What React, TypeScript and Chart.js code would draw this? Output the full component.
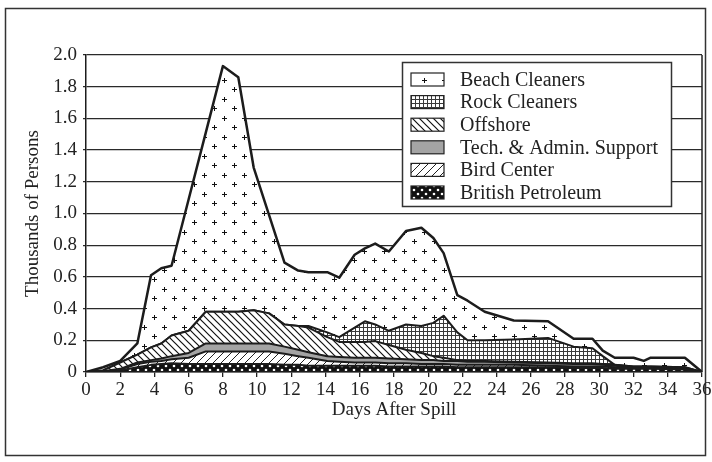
import React, { useEffect, useRef } from 'react';
import { Chart, registerables } from 'chart.js';
Chart.register(...registerables);

const days = [0, 1, 2, 3, 3.8, 4.4, 5, 6, 7, 8, 8.9, 9.8, 10.7, 11.6, 12.4, 13, 14.1, 14.8, 15.7, 16.3, 16.9, 17.7, 18.7, 19.6, 20.3, 20.9, 21.7, 22.3, 23.3, 25, 27, 28.5, 29.6, 30.2, 30.9, 32, 32.6, 33, 35, 36];

const britishPetroleum = [0, 0, 0.01, 0.03, 0.045, 0.05, 0.055, 0.05, 0.05, 0.05, 0.05, 0.05, 0.05, 0.045, 0.045, 0.04, 0.04, 0.04, 0.04, 0.04, 0.04, 0.035, 0.035, 0.035, 0.035, 0.035, 0.03, 0.03, 0.03, 0.03, 0.03, 0.025, 0.025, 0.025, 0.02, 0.02, 0.02, 0.02, 0.015, 0];
const birdCenter = [0, 0.003, 0.005, 0.02, 0.02, 0.02, 0.025, 0.04, 0.08, 0.08, 0.08, 0.08, 0.08, 0.07, 0.055, 0.05, 0.03, 0.025, 0.02, 0.02, 0.02, 0.02, 0.02, 0.015, 0.015, 0.015, 0.015, 0.015, 0.015, 0.015, 0.01, 0.01, 0.01, 0.01, 0.01, 0.005, 0.005, 0.005, 0.005, 0];
const techAdmin = [0, 0.002, 0.005, 0.01, 0.01, 0.015, 0.02, 0.03, 0.05, 0.05, 0.05, 0.05, 0.05, 0.045, 0.04, 0.035, 0.03, 0.03, 0.03, 0.03, 0.03, 0.03, 0.025, 0.025, 0.025, 0.02, 0.025, 0.02, 0.02, 0.015, 0.015, 0.015, 0.015, 0.01, 0.01, 0.005, 0.005, 0.005, 0.005, 0];
const offshore = [0, 0.005, 0.04, 0.05, 0.08, 0.095, 0.13, 0.14, 0.2, 0.2, 0.2, 0.21, 0.19, 0.14, 0.15, 0.155, 0.12, 0.095, 0.1, 0.1, 0.105, 0.085, 0.06, 0.045, 0.025, 0.02, 0.005, 0.005, 0.005, 0.005, 0.005, 0.005, 0.005, 0.005, 0.005, 0.005, 0.005, 0.005, 0.005, 0];
const rockCleaners = [0, 0, 0, 0, 0, 0, 0, 0, 0, 0, 0, 0, 0, 0, 0, 0.01, 0.03, 0.03, 0.09, 0.13, 0.105, 0.09, 0.16, 0.17, 0.21, 0.265, 0.175, 0.13, 0.13, 0.14, 0.155, 0.105, 0.095, 0.05, 0, 0, 0, 0, 0, 0];
const beachCleaners = [0, 0.02, 0.01, 0.07, 0.455, 0.475, 0.44, 0.83, 1.13, 1.55, 1.48, 0.9, 0.62, 0.39, 0.35, 0.34, 0.38, 0.375, 0.46, 0.46, 0.51, 0.5, 0.59, 0.62, 0.535, 0.395, 0.235, 0.25, 0.18, 0.12, 0.105, 0.05, 0.06, 0.035, 0.045, 0.055, 0.035, 0.055, 0.06, 0];

const seriesLabels = ['British Petroleum', 'Bird Center', 'Tech. & Admin. Support', 'Offshore', 'Rock Cleaners', 'Beach Cleaners'];
const seriesValues = [britishPetroleum, birdCenter, techAdmin, offshore, rockCleaners, beachCleaners];

const xTitle = 'Days After Spill';
const yTitle = 'Thousands of Persons';

const FONT = '"Liberation Serif", "Times New Roman", serif';

function makePattern(w: number, h: number, draw: (g: CanvasRenderingContext2D) => void): CanvasPattern {
  const c = document.createElement('canvas');
  c.width = w;
  c.height = h;
  const g = c.getContext('2d') as CanvasRenderingContext2D;
  draw(g);
  return g.createPattern(c, 'repeat') as CanvasPattern;
}

function buildFills(): (CanvasPattern | string)[] {
  const bp = makePattern(8, 8, (g) => {
    g.fillStyle = '#111';
    g.fillRect(0, 0, 8, 8);
    g.fillStyle = '#fff';
    g.beginPath(); g.arc(2, 2, 1.3, 0, Math.PI * 2); g.fill();
    g.beginPath(); g.arc(6, 6, 1.3, 0, Math.PI * 2); g.fill();
  });
  const bird = makePattern(8, 8, (g) => {
    g.fillStyle = '#fff';
    g.fillRect(0, 0, 8, 8);
    g.strokeStyle = '#222';
    g.lineWidth = 1;
    g.beginPath();
    g.moveTo(-1, 9); g.lineTo(9, -1);
    g.moveTo(-1, 1); g.lineTo(1, -1);
    g.moveTo(7, 9); g.lineTo(9, 7);
    g.stroke();
  });
  const tech = '#a4a4a4';
  const off = makePattern(7, 7, (g) => {
    g.fillStyle = '#fff';
    g.fillRect(0, 0, 7, 7);
    g.strokeStyle = '#111';
    g.lineWidth = 1.2;
    g.beginPath();
    g.moveTo(-1, -1); g.lineTo(8, 8);
    g.moveTo(6, -1); g.lineTo(8, 1);
    g.moveTo(-1, 6); g.lineTo(1, 8);
    g.stroke();
  });
  const rock = makePattern(4, 4, (g) => {
    g.fillStyle = '#fff';
    g.fillRect(0, 0, 4, 4);
    g.fillStyle = '#3a3a3a';
    g.fillRect(0, 3, 4, 1);
    g.fillRect(3, 0, 1, 4);
  });
  const beach = makePattern(20, 19, (g) => {
    g.fillStyle = '#fff';
    g.fillRect(0, 0, 20, 19);
    g.fillStyle = '#111';
    const plus = (x: number, y: number) => {
      g.fillRect(x - 2, y, 5, 1);
      g.fillRect(x, y - 2, 1, 5);
    };
    plus(4, 4);
    plus(14, 13);
  });
  return [bp, bird, tech, off, rock, beach];
}

export default function App() {
  const ref = useRef<HTMLCanvasElement | null>(null);

  useEffect(() => {
    const canvas = ref.current;
    if (!canvas) return;
    const fills = buildFills();

    const datasets = seriesValues.map((vals, i) => ({
      label: seriesLabels[i],
      data: days.map((d, j) => ({ x: d, y: vals[j] })),
      backgroundColor: fills[i],
      borderColor: '#1c1c1c',
      borderWidth: i === 5 ? 2.5 : 2,
      pointRadius: 0,
      tension: 0,
      fill: i === 0 ? 'origin' : '-1',
    }));

    const framePlugin = {
      id: 'frame',
      beforeDraw(chart: any) {
        const ctx = chart.ctx;
        ctx.save();
        ctx.fillStyle = '#fff';
        ctx.fillRect(0, 0, chart.width, chart.height);
        ctx.strokeStyle = '#333';
        ctx.lineWidth = 1.5;
        ctx.strokeRect(5.5, 8.5, 700, 447);
        ctx.restore();
      },
      afterDatasetsDraw(chart: any) {
        const { ctx, chartArea } = chart;
        ctx.save();
        ctx.strokeStyle = '#222';
        ctx.lineWidth = 1.5;
        ctx.beginPath();
        ctx.moveTo(chartArea.right, chartArea.top);
        ctx.lineTo(chartArea.right, chartArea.bottom);
        ctx.stroke();
        ctx.restore();
      },
    };

    const legendPlugin = {
      id: 'boxLegend',
      afterDraw(chart: any) {
        const ctx = chart.ctx;
        ctx.save();
        ctx.fillStyle = '#fff';
        ctx.fillRect(402.5, 62.5, 269, 144);
        ctx.strokeStyle = '#333';
        ctx.lineWidth = 1.5;
        ctx.strokeRect(402.5, 62.5, 269, 144);
        const order = [5, 4, 3, 2, 1, 0];
        order.forEach((di, row) => {
          const ds = chart.data.datasets[di];
          const cy = 79.5 + row * 22.6;
          ctx.fillStyle = ds.backgroundColor;
          ctx.fillRect(411, cy - 6.5, 33, 13);
          ctx.strokeStyle = '#222';
          ctx.lineWidth = 1.2;
          ctx.strokeRect(411, cy - 6.5, 33, 13);
          ctx.fillStyle = '#222';
          ctx.font = '20px ' + FONT;
          ctx.textBaseline = 'middle';
          ctx.textAlign = 'left';
          ctx.fillText(ds.label, 460, cy + 1);
        });
        ctx.restore();
      },
    };

    const chart = new Chart(canvas, {
      type: 'line',
      data: { datasets: datasets as any },
      options: {
        animation: false,
        responsive: false,
        devicePixelRatio: 1,
        layout: { padding: { left: 0, right: 10, top: 55, bottom: 0 } },
        plugins: { legend: { display: false }, tooltip: { enabled: false } },
        elements: { line: { borderJoinStyle: 'round' } },
        scales: {
          x: {
            type: 'linear',
            min: 0,
            max: 36,
            ticks: {
              stepSize: 2,
              color: '#222',
              font: { family: FONT, size: 19 },
              padding: 2,
              maxRotation: 0,
              autoSkip: false,
            },
            grid: { display: true, drawOnChartArea: false, drawTicks: true, tickLength: 5, color: '#222', lineWidth: 1.3 },
            border: { display: true, color: '#1c1c1c', width: 1.5, z: 1 },
            title: { display: true, text: xTitle, color: '#222', font: { family: FONT, size: 19 }, padding: { top: 0, bottom: 41 } },
            afterFit: (s: any) => { s.height = 90; s.paddingLeft = 0; s.paddingRight = 0; },
          },
          y: {
            stacked: true,
            min: 0,
            max: 2,
            ticks: {
              stepSize: 0.2,
              color: '#222',
              font: { family: FONT, size: 19 },
              padding: 6,
              callback: (v: any) => (Math.abs(v) < 1e-9 ? '0' : Number(v).toFixed(1)),
            },
            grid: { color: '#2a2a2a', lineWidth: 1.3, tickLength: 3 },
            border: { display: true, color: '#1c1c1c', width: 1.5 },
            title: { display: true, text: yTitle, color: '#222', font: { family: FONT, size: 19 }, padding: { top: 22, bottom: 0 } },
            afterFit: (s: any) => { s.width = 86; },
          },
        },
      },
      plugins: [framePlugin, legendPlugin],
    });

    return () => chart.destroy();
  }, []);

  return (
    <div style={{ position: 'absolute', left: 0, top: 0, width: 712, height: 462 }}>
      <canvas ref={ref} width={712} height={462} style={{ width: 712, height: 462, display: 'block' }} />
    </div>
  );
}
